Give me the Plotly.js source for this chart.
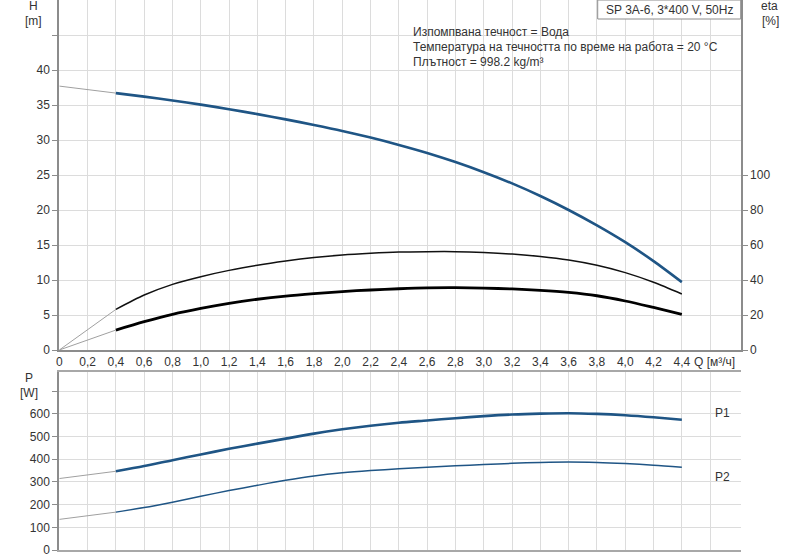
<!DOCTYPE html>
<html>
<head>
<meta charset="utf-8">
<script src="https://cdn.plot.ly/plotly-3.0.1.min.js"></script>
<style>
  body { margin: 0; background: #fff; }
  #chart { width: 800px; height: 560px; }
</style>
</head>
<body>
<div id="chart"></div>
<script>
// Q [m3/h] of the curve points
var q = [0.4, 0.6, 0.8, 1.0, 1.2, 1.4, 1.6, 1.8, 2.0, 2.2, 2.4, 2.6, 2.8, 3.0, 3.2, 3.4, 3.6, 3.8, 4.0, 4.2, 4.4]
var head = [36.7, 36.2, 35.65, 35.05, 34.4, 33.7, 32.95, 32.15, 31.3, 30.35, 29.3, 28.15, 26.85, 25.4, 23.8, 22.0, 20.0, 17.8, 15.4, 12.7, 9.7]
var etaPump = [23.2, 31.4, 37.5, 41.9, 45.5, 48.4, 50.8, 52.8, 54.3, 55.3, 56.0, 56.2, 56.2, 55.7, 54.8, 53.4, 51.4, 48.4, 44.2, 38.7, 32.0]
var etaTotal = [11.4, 16.2, 20.4, 23.8, 26.7, 29.0, 30.8, 32.2, 33.4, 34.3, 35.0, 35.5, 35.6, 35.35, 34.9, 34.1, 32.9, 31.0, 28.0, 24.3, 20.4]
var p1 = [347, 370, 396, 421, 446, 469, 491, 513, 532, 548, 561, 571, 581, 590, 597, 601, 603, 600, 594, 585, 574]
var p2 = [167, 187, 211, 237, 262, 285, 307, 326, 340, 350, 358, 365, 371, 377, 382, 386, 388, 386, 381, 374, 365]

// thin grey part from Q = 0 up to the start of the curves
var qExt = [0, 0.4]
var headExt = [37.7, 36.7]
var etaPumpExt = [0, 23.2]
var etaTotalExt = [0, 11.4]
var p1Ext = [315, 347]
var p2Ext = [135, 167]

// tick labels
var qTicks = [0, 0.2, 0.4, 0.6, 0.8, 1.0, 1.2, 1.4, 1.6, 1.8, 2.0, 2.2, 2.4, 2.6, 2.8, 3.0, 3.2, 3.4, 3.6, 3.8, 4.0, 4.2, 4.4, 4.6]
var qLabels = ['0', '0,2', '0,4', '0,6', '0,8', '1,0', '1,2', '1,4', '1,6', '1,8', '2,0', '2,2', '2,4', '2,6', '2,8', '3,0', '3,2', '3,4', '3,6', '3,8', '4,0', '4,2', '4,4', '']
var qTitle = 'Q [м³/ч]'
var hTicks = [0, 5, 10, 15, 20, 25, 30, 35, 40, 45]
var hLabels = ['0', '5', '10', '15', '20', '25', '30', '35', '40', '']
var etaTicks = [0, 20, 40, 60, 80, 100]
var pTicks = [0, 100, 200, 300, 400, 500, 600, 700]
var pLabels = ['0', '100', '200', '300', '400', '500', '600', '']

var infoLines = ['Изпомпвана течност = Вода', 'Температура на течността по време на работа = 20 °C', 'Плътност = 998.2 kg/m³']
var pumpName = 'SP 3A-6, 3*400 V, 50Hz'

var blue = '#1f5585'
var grey = '#a0a0a0'
var txt = '#333333'
var gridc = '#dcdcdc'

function linia(x, y, xa, ya, color, width) {
    return {
        x: x, y: y, xaxis: xa, yaxis: ya,
        mode: 'lines', type: 'scatter', hoverinfo: 'skip',
        line: { color: color, width: width, shape: 'spline', smoothing: 0.8 }
    }
}

var data = [
    linia(qExt, headExt, 'x', 'y', grey, 1),
    linia(qExt, etaPumpExt, 'x', 'y2', grey, 1),
    linia(qExt, etaTotalExt, 'x', 'y2', grey, 1),
    linia(qExt, p1Ext, 'x2', 'y3', grey, 1),
    linia(qExt, p2Ext, 'x2', 'y3', grey, 1),
    linia(q, head, 'x', 'y', blue, 2.6),
    linia(q, etaPump, 'x', 'y2', '#111111', 1.5),
    linia(q, etaTotal, 'x', 'y2', '#000000', 2.8),
    linia(q, p1, 'x2', 'y3', blue, 2.6),
    linia(q, p2, 'x2', 'y3', blue, 1.5)
]

var fnt = { family: 'Liberation Sans, Arial, sans-serif', size: 12, color: txt }
var xdom = [59.3 / 800, 740.7 / 800]

var annotations = []
function nota(text, px, py, anchor) {
    annotations.push({
        text: text, xref: 'paper', yref: 'paper',
        x: px / 800, y: 1 - py / 560,
        xanchor: anchor || 'center', yanchor: 'middle',
        showarrow: false, font: fnt
    })
}
nota('H', 33, 6)
nota('[m]', 33, 21)
nota('eta', 769, 6)
nota('[%]', 770, 21)
nota('P', 29, 378)
nota('[W]', 29, 393)
nota('P1', 722, 413)
nota('P2', 722, 477)
nota(qTitle, 692, 362, 'left')
infoLines.forEach((l, i) => {
    nota(l, 411, 32 + i * 15, 'left')
})
nota(pumpName, 669, 10)

var layout = {
    width: 800, height: 560,
    margin: { l: 0, r: 0, t: 0, b: 0 },
    paper_bgcolor: '#ffffff', plot_bgcolor: '#ffffff',
    showlegend: false,
    font: fnt,
    xaxis: {
        domain: xdom, range: [0, 4.816], anchor: 'y',
        tickvals: qTicks, ticktext: qLabels, ticks: '', tickangle: 0,
        showgrid: true, gridcolor: gridc, zeroline: false,
        showline: true, linecolor: '#8c8c8c', linewidth: 2, mirror: true
    },
    yaxis: {
        domain: [1 - 350 / 560, 1], range: [0, 50], anchor: 'x',
        tickvals: hTicks, ticktext: hLabels,
        ticks: 'outside', ticklen: 5, tickcolor: '#8c8c8c',
        showgrid: true, gridcolor: gridc, zeroline: false,
        showline: true, linecolor: '#8c8c8c', linewidth: 2
    },
    yaxis2: {
        overlaying: 'y', side: 'right', anchor: 'x', range: [0, 200],
        tickvals: etaTicks, ticks: 'outside', ticklen: 5, tickcolor: '#8c8c8c',
        showgrid: false, zeroline: false,
        showline: true, linecolor: '#8c8c8c', linewidth: 2
    },
    xaxis2: {
        domain: xdom, range: [0, 4.816], anchor: 'y3',
        tickvals: qTicks, showticklabels: false, ticks: '',
        showgrid: true, gridcolor: gridc, zeroline: false,
        showline: true, linecolor: '#a8a8a8', linewidth: 1.5, mirror: true
    },
    yaxis3: {
        domain: [1 - 550 / 560, 1 - 371.7 / 560], range: [0, 786], anchor: 'x2',
        tickvals: pTicks, ticktext: pLabels,
        ticks: 'outside', ticklen: 5, tickcolor: '#8c8c8c',
        showgrid: true, gridcolor: gridc, zeroline: false,
        showline: true, linecolor: '#8c8c8c', linewidth: 2
    },
    shapes: [{
        type: 'rect', xref: 'paper', yref: 'paper',
        x0: 597.7 / 800, x1: 740.7 / 800, y0: 1 - 19 / 560, y1: 1,
        fillcolor: '#ffffff', line: { color: '#8c8c8c', width: 1 }, layer: 'above'
    }],
    annotations: annotations
}

Plotly.newPlot('chart', data, layout, { displayModeBar: false, staticPlot: true })
</script>
</body>
</html>
